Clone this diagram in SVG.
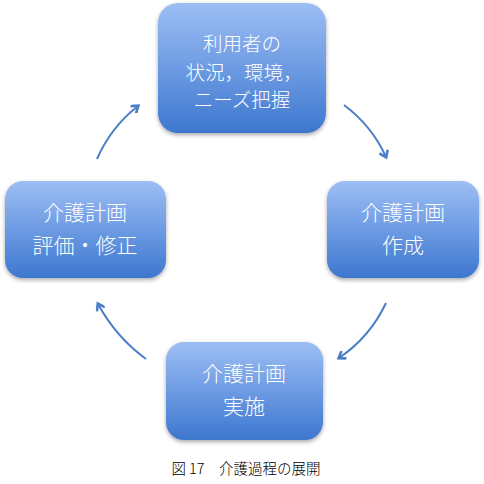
<svg xmlns="http://www.w3.org/2000/svg" width="484" height="484" viewBox="0 0 484 484">
<defs>
<linearGradient id="g" x1="0" y1="0" x2="0" y2="1">
<stop offset="0" stop-color="#9dbef4"/>
<stop offset="0.5" stop-color="#6d9be3"/>
<stop offset="1" stop-color="#3d77cf"/>
</linearGradient>
<filter id="sh" x="-10%" y="-10%" width="120%" height="125%">
<feGaussianBlur in="SourceAlpha" stdDeviation="2"/>
<feOffset dx="0" dy="2" result="b"/>
<feComponentTransfer><feFuncA type="linear" slope="0.35"/></feComponentTransfer>
<feMerge><feMergeNode/><feMergeNode in="SourceGraphic"/></feMerge>
</filter>
<marker id="ah" markerWidth="10" markerHeight="10" refX="7" refY="5" orient="auto" markerUnits="userSpaceOnUse">
<path d="M1,0.5 L7.5,5 L1,9.5" fill="none" stroke="#4a7ec6" stroke-width="2.6" stroke-linejoin="miter"/>
</marker>
</defs>
<style>
.box{fill:url(#g);filter:url(#sh)}
.t{fill:#ffffff;font-family:"Noto Sans CJK JP","Noto Sans CJK SC",sans-serif;font-size:21px;font-weight:300;text-anchor:middle}
.s{font-size:19.5px}
.c{fill:none;stroke:#4a7ec6;stroke-width:2;marker-end:url(#ah)}
.cap{fill:#000;font-family:"Noto Sans CJK JP",serif;font-size:14.5px;font-weight:300;text-anchor:middle}
</style>
<rect width="484" height="484" fill="#ffffff"/>
<g id="n1">
<rect class="box" x="158" y="3" width="168" height="130" rx="20"/>
<text class="t s" x="242" y="51">利用者の</text>
<text class="t s" x="244" y="80">状況，環境，</text>
<text class="t s" x="242" y="107">ニーズ把握</text>
</g>
<g id="n2">
<rect class="box" x="327" y="181" width="152" height="97" rx="18"/>
<text class="t" x="403" y="220">介護計画</text>
<text class="t" x="403" y="253">作成</text>
</g>
<g id="n3">
<rect class="box" x="166" y="342" width="157" height="98" rx="18"/>
<text class="t" x="244" y="381">介護計画</text>
<text class="t" x="244" y="414">実施</text>
</g>
<g id="n4">
<rect class="box" x="5" y="181" width="161" height="97" rx="18"/>
<text class="t" x="85" y="220">介護計画</text>
<text class="t" x="85" y="253">評価・修正</text>
</g>
<g id="connectors">
<path class="c" d="M344,105 Q372,126 386,157"/>
<path class="c" d="M386,303 Q370,337 339,358"/>
<path class="c" d="M146,359 Q116,337 98,304"/>
<path class="c" d="M97,159 Q111,127 138,106"/>
</g>
<text class="cap" x="246" y="474">図 17　介護過程の展開</text>
</svg>
